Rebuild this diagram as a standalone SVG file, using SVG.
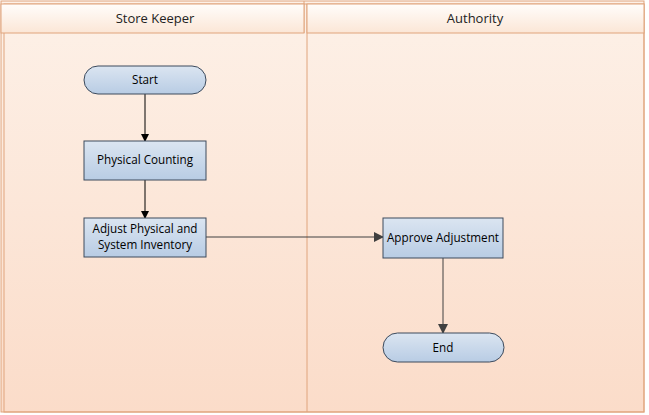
<svg xmlns="http://www.w3.org/2000/svg" width="649" height="415" viewBox="0 0 649 415">
<defs>
<linearGradient id="bg" x1="0" y1="0" x2="0" y2="1"><stop offset="0" stop-color="#fdf1e8"/><stop offset="1" stop-color="#fbdcc9"/></linearGradient>
<linearGradient id="hd" x1="0" y1="0" x2="0" y2="1"><stop offset="0" stop-color="#fffdfb"/><stop offset="1" stop-color="#fbe6d6"/></linearGradient>
<linearGradient id="nd" x1="0" y1="0" x2="0" y2="1"><stop offset="0" stop-color="#dbe5f1"/><stop offset="1" stop-color="#b8cce4"/></linearGradient>
<marker id="ar" markerWidth="8" markerHeight="8" refX="7" refY="4" orient="auto" markerUnits="userSpaceOnUse"><path d="M0,0 L8,4 L0,8 Z" fill="#000"/></marker>
<marker id="ar2" markerWidth="10" markerHeight="10" refX="9" refY="5" orient="auto" markerUnits="userSpaceOnUse"><path d="M0,0 L10,5 L0,10 Z" fill="#404040"/></marker>
<style>
.hdr{fill:url(#hd);stroke:#e0a47c;stroke-width:1}
.node{fill:url(#nd);stroke:#3c4a5c;stroke-width:1}
.t{font-family:"Open Sans","Noto Sans",sans-serif;font-size:11.7px;fill:#000;text-anchor:middle}
.h{font-family:"Open Sans","Noto Sans",sans-serif;font-size:13px;fill:#222;text-anchor:middle}
.c{stroke:#000;stroke-width:1;fill:none}
.c2{stroke:#404040;stroke-width:1;fill:none}
</style>
</defs>
<g id="pool">
<rect x="1" y="1" width="643" height="411" fill="url(#bg)" stroke="#e0a47c"/>
<rect x="4" y="4" width="640" height="408" fill="none" stroke="#e0a47c"/>
<line x1="307" y1="4" x2="307" y2="412" stroke="#e0a47c"/>
<line x1="304" y1="1" x2="304" y2="33" stroke="#e0a47c"/>
</g>
<g id="lane-store-keeper">
<rect class="hdr" x="1" y="4" width="303" height="29"/>
<text class="h" x="155" y="23">Store Keeper</text>
</g>
<g id="lane-authority">
<rect class="hdr" x="307" y="4" width="337" height="29"/>
<text class="h" x="475" y="23">Authority</text>
</g>
<g id="connectors">
<line class="c" x1="145" y1="94" x2="145" y2="141" marker-end="url(#ar)"/>
<line class="c" x1="145" y1="180" x2="145" y2="218" marker-end="url(#ar)"/>
<line class="c2" x1="206" y1="237" x2="383" y2="237" marker-end="url(#ar2)"/>
<line class="c2" x1="443" y1="258" x2="443" y2="333" marker-end="url(#ar2)"/>
</g>
<g id="start">
<rect class="node" x="84" y="66" width="122" height="28" rx="14"/>
<text class="t" x="145" y="84">Start</text>
</g>
<g id="physical-counting">
<rect class="node" x="84" y="141" width="122" height="39"/>
<text class="t" x="145" y="164">Physical Counting</text>
</g>
<g id="adjust">
<rect class="node" x="84" y="218" width="122" height="39"/>
<text class="t" x="145" y="233">Adjust Physical and</text>
<text class="t" x="145" y="249">System Inventory</text>
</g>
<g id="approve">
<rect class="node" x="383" y="218" width="120" height="40"/>
<text class="t" x="443" y="242">Approve Adjustment</text>
</g>
<g id="end">
<rect class="node" x="383" y="333" width="121" height="29" rx="14.5"/>
<text class="t" x="443" y="352">End</text>
</g>
</svg>
